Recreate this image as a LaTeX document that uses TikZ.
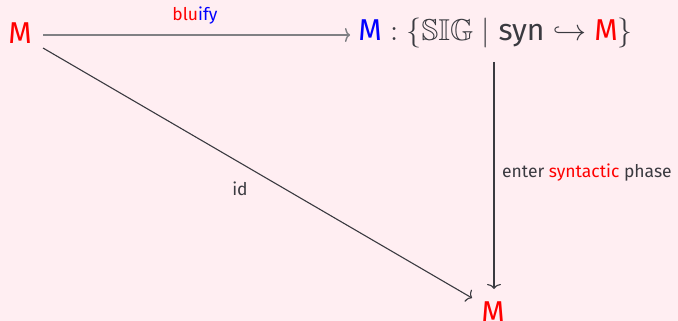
\documentclass[tikz,border=0pt]{standalone}
\usepackage{amssymb}
\usepackage{fontspec}
\setmainfont{Fira Sans}
\usetikzlibrary{arrows.meta}
\definecolor{bgpink}{RGB}{255,238,242}
\definecolor{txt}{RGB}{58,58,64}
\definecolor{myred}{RGB}{255,0,0}
\definecolor{myblue}{RGB}{0,0,255}
\definecolor{topline}{RGB}{128,128,132}
\tikzset{
  obj/.style={inner sep=0pt, text=txt, font=\fontsize{14.5}{17}\selectfont, scale=2.08, transform shape},
  lbl/.style={inner sep=0pt, text=txt, font=\fontsize{17.5}{20}\selectfont},
  arr/.style={draw=txt, line width=1.1pt, -{To[length=5pt,width=14pt]}},
}
\begin{document}
\begin{tikzpicture}[x=1pt,y=-1pt]
\fill[bgpink] (0,0) rectangle (678,321);
\useasboundingbox (0,0) rectangle (678,321);
\node[obj, text=myred] (a) at (20,33) {M};
\node[obj, anchor=west] (b) at (358,33) {$\mbox{\textcolor{myblue}{M}}:\{\mathbb{SIG}\mid\mbox{syn}\hookrightarrow\mbox{\textcolor{myred}{M}}\}$};
\node[obj, text=myred, anchor=north] (c) at (493,301) {M};
\coordinate (h1) at (43,35);
\coordinate (h2) at (350,35);
\coordinate (d1) at (43,48);
\coordinate (d2) at (472,298);
\coordinate (v1) at (494,62);
\coordinate (v2) at (494,289);
\draw[arr, draw=topline, line width=1.4pt] (h1) -- (h2);
\draw[arr] (d1) -- (d2);
\draw[arr] (v1) -- (v2);
\node[lbl] (l1) at (195,16) {\textcolor{myred}{blu}\textcolor{myblue}{ify}};
\node[lbl] (l2) at (240,189) {id};
\node[lbl, anchor=west] (l3) at (502,173) {enter \textcolor{myred}{syntactic} phase};
\end{tikzpicture}
\end{document}
